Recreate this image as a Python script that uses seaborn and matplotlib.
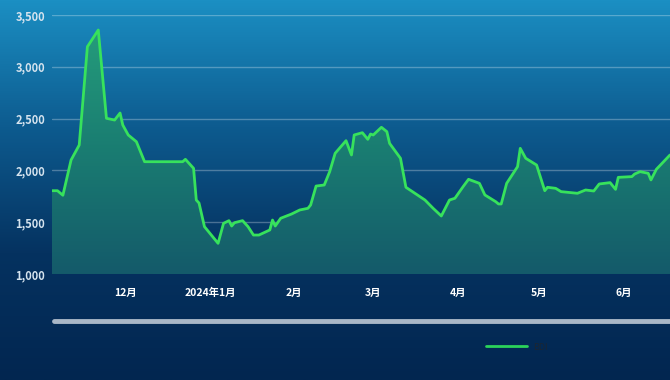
import numpy as np
import pandas as pd
import matplotlib
matplotlib.use("Agg")
import matplotlib.pyplot as plt
from matplotlib.colors import LinearSegmentedColormap
from matplotlib.lines import Line2D
import matplotlib.dates as mdates
import seaborn as sns

# BDI daily values
dates = [
    "2023-11-04", "2023-11-06", "2023-11-08", "2023-11-11", "2023-11-14", "2023-11-17",
    "2023-11-21", "2023-11-24", "2023-11-27", "2023-11-29", "2023-11-30", "2023-12-02",
    "2023-12-05", "2023-12-08", "2023-12-22", "2023-12-23", "2023-12-26", "2023-12-27",
    "2023-12-28", "2023-12-30", "2024-01-04", "2024-01-06", "2024-01-08", "2024-01-09",
    "2024-01-10", "2024-01-13", "2024-01-15", "2024-01-17", "2024-01-19", "2024-01-23",
    "2024-01-24", "2024-01-25", "2024-01-27", "2024-01-31", "2024-02-03", "2024-02-06",
    "2024-02-07", "2024-02-09", "2024-02-12", "2024-02-14", "2024-02-16", "2024-02-20",
    "2024-02-22", "2024-02-23", "2024-02-26", "2024-02-28", "2024-02-29", "2024-03-01",
    "2024-03-04", "2024-03-06", "2024-03-07", "2024-03-11", "2024-03-13", "2024-03-20",
    "2024-03-23", "2024-03-26", "2024-03-29", "2024-03-31", "2024-04-03", "2024-04-05",
    "2024-04-09", "2024-04-11", "2024-04-15", "2024-04-16", "2024-04-17", "2024-04-19",
    "2024-04-23", "2024-04-24", "2024-04-26", "2024-04-30", "2024-05-03", "2024-05-04",
    "2024-05-07", "2024-05-09", "2024-05-15", "2024-05-18", "2024-05-21", "2024-05-23",
    "2024-05-27", "2024-05-29", "2024-05-30", "2024-06-04", "2024-06-05", "2024-06-07",
    "2024-06-10", "2024-06-11", "2024-06-13", "2024-06-18",
]
bdi = [
    1804, 1804, 1760, 2100, 2245, 3194,
    3355, 2503, 2486, 2554, 2438, 2342,
    2277, 2084, 2084, 2107, 2020, 1714,
    1685, 1457, 1296, 1489, 1515, 1463,
    1495, 1515, 1457, 1376, 1376, 1425,
    1521, 1463, 1538, 1579, 1618, 1634,
    1666, 1849, 1859, 1988, 2165, 2287,
    2149, 2342, 2364, 2300, 2351, 2342,
    2416, 2374, 2261, 2117, 1837, 1714,
    1634, 1560, 1714, 1731, 1843, 1914,
    1875, 1763, 1698, 1676, 1676, 1875,
    2036, 2213, 2117, 2052, 1804, 1837,
    1827, 1795, 1779, 1811, 1801, 1869,
    1882, 1817, 1933, 1940, 1965, 1988,
    1972, 1908, 2011, 2149,
]

tick_dates = ["2023-12-01", "2024-01-01", "2024-02-01", "2024-03-01",
              "2024-04-01", "2024-05-01", "2024-06-01"]
tick_labels = ["12月", "2024年1月", "2月", "3月", "4月", "5月", "6月"]
y_ticks = [1000, 1500, 2000, 2500, 3000, 3500]

sns.set_style("dark")
plt.rcParams['font.family'] = ['Noto Sans CJK SC', 'DejaVu Sans']

df = pd.DataFrame({"date": pd.to_datetime(dates), "BDI": bdi})

fig = plt.figure(figsize=(6.7, 3.8), dpi=100)

# background gradient
bg = fig.add_axes([0, 0, 1, 1], zorder=0)
bg.axis("off")
grad = np.linspace(0, 1, 256).reshape(-1, 1)
bg_cmap = LinearSegmentedColormap.from_list("bg", ["#1b8fc3", "#0d5b8f", "#053260", "#022650"])
bg.imshow(grad, aspect="auto", cmap=bg_cmap, extent=[0, 1, 0, 1], origin="upper")

ax = fig.add_axes([52 / 670, 106 / 380, 618 / 670, 259 / 380], zorder=1)
ax.patch.set_alpha(0)

sns.lineplot(data=df, x="date", y="BDI", ax=ax, color="#37e25c", lw=2.0, label="BDI", zorder=4)

# gradient area under the line
poly = ax.fill_between(df["date"], df["BDI"], 1000, color="none", lw=0)
x0 = mdates.date2num(df["date"].iloc[0])
x1 = mdates.date2num(df["date"].iloc[-1])
fill_cmap = LinearSegmentedColormap.from_list("fill", ["#26a07c", "#1a7e72", "#145a6a"])
im = ax.imshow(grad, aspect="auto", cmap=fill_cmap, extent=[x0, x1, 1000, 3500],
               origin="upper", zorder=2)
im.set_clip_path(poly.get_paths()[0], transform=ax.transData)

ax.set_xlim(df["date"].iloc[0], df["date"].iloc[-1])
ax.set_ylim(1000, 3500)

ax.grid(axis="y", color="white", alpha=0.28, lw=1)
ax.grid(axis="x", visible=False)
ax.set_axisbelow(True)
for s in ax.spines.values():
    s.set_visible(False)

ax.set_yticks(y_ticks)
ax.set_yticklabels([f"{v:,}" for v in y_ticks])
ax.set_xticks(pd.to_datetime(tick_dates))
ax.set_xticklabels(tick_labels)
ax.tick_params(axis="y", colors="#d5e3ee", labelsize=8, length=0, pad=5)
ax.tick_params(axis="x", colors="white", labelsize=7.5, length=0, pad=10)
for t in ax.get_xticklabels() + ax.get_yticklabels():
    t.set_fontweight("bold")
ax.set_xlabel("")
ax.set_ylabel("")

# scrollbar strip under the chart
fig.add_artist(Line2D([54 / 670, 1.0], [1 - 321 / 380] * 2, color="#a9b7c7",
                      lw=3.5, solid_capstyle="round"))

leg = ax.legend(loc="center left", bbox_to_anchor=(481 / 670, 1 - 347 / 380),
                bbox_transform=fig.transFigure, frameon=False, fontsize=6.5,
                handlelength=4.6, labelcolor="#1a2634", borderpad=0, handletextpad=0.7)
for h in leg.get_lines():
    h.set_color("#2bd35a")
    h.set_linewidth(2.0)

fig.savefig("out.png", dpi=100)
